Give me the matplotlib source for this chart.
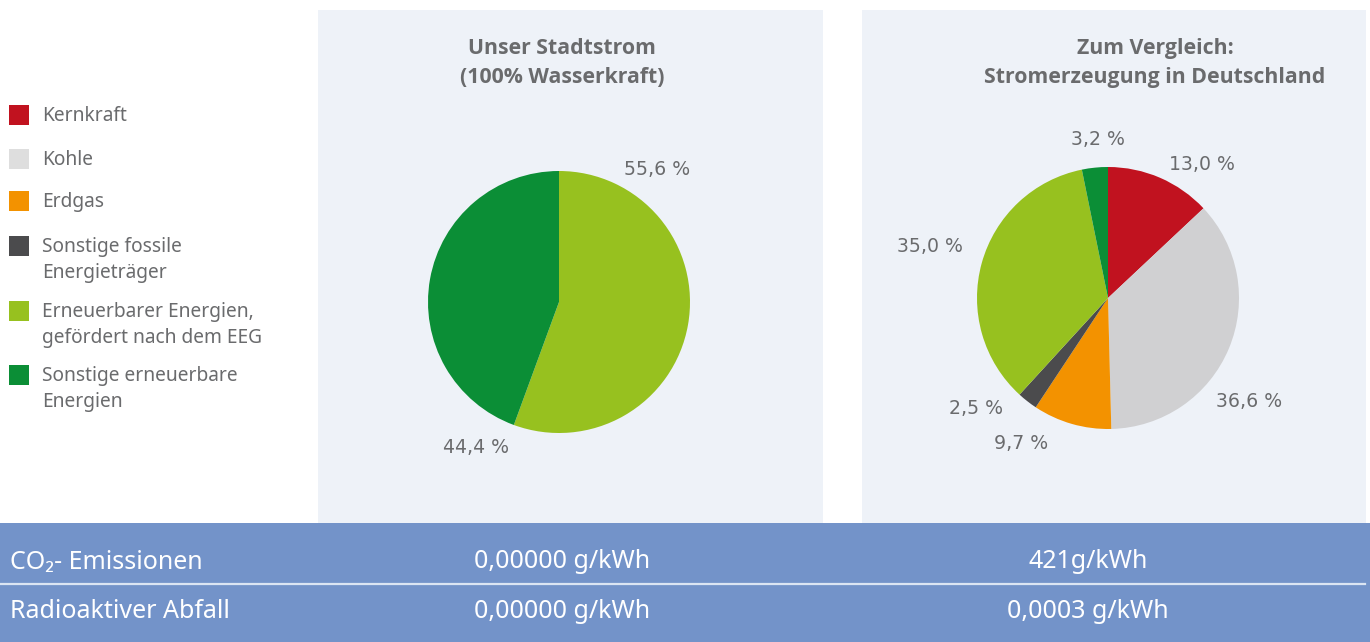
import matplotlib
matplotlib.use('Agg')
import matplotlib.pyplot as plt
from matplotlib.patches import Rectangle

plt.rcParams['font.family'] = ['Noto Sans', 'DejaVu Sans']

#%% data
legend_labels = ['Kernkraft', 'Kohle', 'Erdgas', 'Sonstige fossile\nEnergieträger',
                 'Erneuerbarer Energien,\ngefördert nach dem EEG',
                 'Sonstige erneuerbare\nEnergien']
legend_colors = ['#c1121f', '#dedede', '#f39200', '#4b4b4d', '#97c11f', '#0b8e36']

stadt_values = [55.6, 44.4]
stadt_colors = ['#97c11f', '#0b8e36']
stadt_labels = ['55,6 %', '44,4 %']

de_values = [13.0, 36.6, 9.7, 2.5, 35.0, 3.2]
de_colors = ['#c1121f', '#d0d0d2', '#f39200', '#4b4b4d', '#97c11f', '#0b8e36']
de_labels = ['13,0 %', '36,6 %', '9,7 %', '2,5 %', '35,0 %', '3,2 %']

title_left = 'Unser Stadtstrom\n(100% Wasserkraft)'
title_right = 'Zum Vergleich:\nStromerzeugung in Deutschland'

row_names = ['CO₂- Emissionen', 'Radioaktiver Abfall']
row_stadt = ['0,00000 g/kWh', '0,00000 g/kWh']
row_de = ['421g/kWh', '0,0003 g/kWh']

# label placement (x, y in pie radii), style only
stadt_lpos = [(0.75, 1.01), (-0.63, -1.11)]
de_lpos = [(0.72, 1.02), (1.08, -0.79), (-0.66, -1.11), (-1.01, -0.84), (-1.36, 0.39), (-0.08, 1.21)]

W, H = 1370, 642
GRAY = '#6a6b6d'
PANEL = '#eef2f8'
BAND = '#7393c9'

fig = plt.figure(figsize=(W / 100, H / 100), dpi=100)
fig.patch.set_facecolor('white')


def px_rect(x0, y0, x1, y1, color, z=0):
    fig.patches.append(Rectangle((x0 / W, 1 - y1 / H), (x1 - x0) / W, (y1 - y0) / H,
                                 transform=fig.transFigure, facecolor=color,
                                 edgecolor='none', zorder=z))


px_rect(318, 10, 823, 523, PANEL, z=-5)
px_rect(862, 10, 1366, 523, PANEL, z=-5)
px_rect(0, 523, W, H, BAND, z=-5)
fig.add_artist(plt.Line2D([0, 1365 / W], [1 - 584 / H] * 2, transform=fig.transFigure,
                          color='#dbe5f3', linewidth=1.6, zorder=-4))


def pie_axes(cx, cy, r, values, colors, labels, lpos):
    s = 210
    ax = fig.add_axes([(cx - s) / W, 1 - (cy + s) / H, 2 * s / W, 2 * s / H])
    ax.set_zorder(3)
    ax.patch.set_visible(False)
    ax.pie(values, colors=colors, startangle=90, counterclock=False, radius=1,
           wedgeprops=dict(linewidth=0))
    lim = s / r
    ax.set_xlim(-lim, lim)
    ax.set_ylim(-lim, lim)
    ax.set_aspect('equal')
    ax.axis('off')
    for lab, (lx, ly) in zip(labels, lpos):
        ax.text(lx, ly, lab, ha='center', va='center', fontsize=13.6, color=GRAY,
                family=['DejaVu Sans'])
    return ax


pie_axes(559, 302, 131, stadt_values, stadt_colors, stadt_labels, stadt_lpos)
pie_axes(1108, 298, 131, de_values, de_colors, de_labels, de_lpos)

fig.text(562 / W, 1 - 63 / H, title_left, ha='center', va='center', fontsize=15.3,
         fontweight='bold', color=GRAY, linespacing=1.55, family=['Open Sans', 'DejaVu Sans'])
fig.text(1155 / W, 1 - 63 / H, title_right, ha='center', va='center', fontsize=15.3,
         fontweight='bold', color=GRAY, linespacing=1.55, family=['Open Sans', 'DejaVu Sans'])

# legend
leg_y = [115, 159, 201, 246, 311, 375]
for lab, col, y in zip(legend_labels, legend_colors, leg_y):
    px_rect(9, y - 10, 29, y + 10, col, z=1)
    fig.text(42 / W, 1 - (y - 9) / H, lab, ha='left', va='top', fontsize=13.8,
             color=GRAY, linespacing=1.38)

# bottom table
row_y = [562, 612]
for name, a, b, y in zip(row_names, row_stadt, row_de, row_y):
    fig.text(10 / W, 1 - y / H, name, ha='left', va='center', fontsize=18, color='white')
    fig.text(562 / W, 1 - y / H, a, ha='center', va='center', fontsize=18, color='white')
    fig.text(1088 / W, 1 - y / H, b, ha='center', va='center', fontsize=18, color='white')

fig.savefig('out.png', dpi=100)
